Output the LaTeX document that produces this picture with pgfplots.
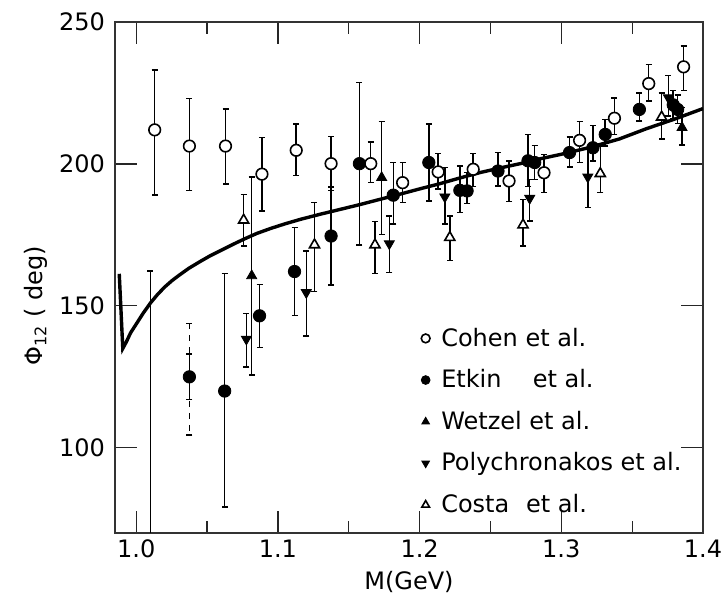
\documentclass[border=0pt]{standalone}
\usepackage{fontspec}
\setmainfont{DejaVu Sans}
\usepackage{pgfplots}
\pgfplotsset{compat=1.18}
\usepackage{pgfplotstable}

% phase Phi_12 vs M, five experiments; columns: M, phase, err+, err-
\pgfplotstableread{
x y ep em
1.013 212 21 23
1.0375 206.3 16.8 15.6
1.063 206.3 13 13.4
1.0887 196.4 12.9 12.9
1.1129 204.8 9.2 8.8
1.1375 200.1 9.5 9.5
1.1655 200.1 7.6 6.7
1.188 193.4 7.1 7
1.2131 197.2 6.4 6.1
1.2378 198.1 5.6 6
1.2631 194 7 7.3
1.2878 196.9 6.5 7
1.3129 208.3 6.6 7.8
1.3375 216.1 7.2 5.7
1.3617 228.3 6.8 6.1
1.3863 234.2 7.3 8.4
}\cohen
\pgfplotstableread{
x y ep em
1.0375 125 8 8
1.0624 120 41.4 40.8
1.087 146.5 11.1 11.1
1.1117 162.1 15.5 15.5
1.1375 174.6 17.2 17.2
1.1575 200.1 28.5 28.6
1.1814 189 11.5 10.1
1.2065 200.5 13.5 13.5
1.2284 190.7 8.6 7.8
1.2335 190.5 6.5 4.5
1.2553 197.5 6.5 5.2
1.2765 201.1 9.3 9
1.2812 200.5 6 6
1.3058 204 5.5 5.1
1.3223 205.7 7.9 4.7
1.331 210.4 5.3 4.1
1.3551 219.2 5.8 4.1
1.379 220.8 5 5
1.3821 219.2 5 5
}\etkin
\pgfplotstableread{
x y ep em
1.0815 160.6 34.8 34.9
1.1732 195.2 19.8 20
1.3852 212.8 7 6.1
}\wetzel
\pgfplotstableread{
x y ep em
1.0777 138.3 9 9.8
1.12 154.7 14.7 15.3
1.1786 171.9 9.8 10.2
1.2178 188.4 10.3 9.6
1.2777 187.9 6.7 8
1.3187 195.4 9.8 10.8
1.3756 223.3 7.9 6.4
}\poly
\pgfplotstableread{
x y ep em
1.0758 180.2 9.1 9.1
1.1258 171.5 14.9 16.5
1.1685 171.5 8.2 10.1
1.2213 174.1 7.6 8.1
1.273 178.5 9 7.4
1.3275 196.6 9.7 6.7
1.3708 216.5 8.5 7.8
}\costa

\pgfplotsset{
  errs/.style={only marks, black,
    error bars/y dir=both, error bars/y explicit,
    error bars/error bar style={black, line width=0.75pt, solid},
    error bars/error mark options={black, rotate=90, mark size=1.5pt, line width=0.75pt, solid}},
}

\begin{document}
\begin{tikzpicture}
\begin{axis}[scale only axis, width=294pt, height=255.5pt,
  xmin=0.985, xmax=1.4, ymin=70, ymax=250,
  xtick={1.0,1.1,1.2,1.3,1.4}, minor xtick={1.05,1.15,1.25,1.35},
  ytick={100,150,200,250},
  major tick length=11pt, minor tick length=6pt,
  every tick/.style={black!85, line width=0.6pt},
  axis line style={black!80, line width=0.8pt},
  tick label style={font=\fontsize{12}{14}\selectfont},
  /pgf/number format/assume math mode=true,
  xticklabel style={/pgf/number format/.cd, fixed, fixed zerofill, precision=1},
  yticklabel style={xshift=-1.5pt},
  xlabel={M(GeV)}, ylabel={Φ\textsubscript{12} ( deg)},
  label style={font=\fontsize{12}{14}\selectfont},
  xlabel style={at={(axis description cs:0.5,-0.095)}, anchor=center},
  ylabel style={at={(axis description cs:-0.134,0.444)}, anchor=center},
  legend style={draw=none, fill=none, at={(axis description cs:0.51,0.418)},
    anchor=north west, font=\fontsize{12}{14}\selectfont, row sep=6.2pt},
  legend cell align=left,
  legend image code/.code={\draw[#1, mark size=2.2pt] plot coordinates {(0.15cm,0cm)};},
]
\addplot[black, line width=1.7pt, mark=none, forget plot] coordinates {
(0.988,161.3)(0.9905,135)(0.993,137.3)(0.996,140.5)(1.000,143.6)(1.005,147.5)
(1.010,151)(1.015,154)(1.020,156.6)(1.025,158.8)(1.030,160.7)(1.037,163.2)
(1.045,165.6)(1.052,167.6)(1.060,169.6)(1.068,171.6)(1.076,173.5)(1.085,175.5)
(1.095,177.3)(1.105,178.9)(1.116,180.5)(1.130,182.3)(1.144,184)(1.158,185.7)
(1.171,187.4)(1.185,189.2)(1.200,191.2)(1.214,193)(1.228,195)(1.243,197)
(1.257,198.6)(1.271,200.1)(1.285,201.8)(1.300,203.4)(1.320,205.8)(1.341,208.8)
(1.360,212.4)(1.380,215.8)(1.400,219.5)};
% bars without a visible centre
\addplot[errs, mark=*, mark options={draw opacity=0, fill opacity=0}, forget plot]
  table[x=x, y=y, y error plus=ep, y error minus=em] {
x y ep em
1.010 100 62.3 40
};
\addplot[errs, mark=*, mark options={draw opacity=0, fill opacity=0}, forget plot,
  error bars/error bar style={black, line width=0.75pt, dashed}]
  table[x=x, y=y, y error plus=ep, y error minus=em] {
x y ep em
1.0375 125 18.8 20.4
};
\addplot[errs, mark=*, mark size=2.9pt, mark options={fill=white, draw=black, line width=0.8pt}]
  table[x=x, y=y, y error plus=ep, y error minus=em] {\cohen};
\addlegendentry{\hspace{0.3em}Cohen et al.}
\addplot[errs, mark=*, mark size=3.1pt, mark options={fill=black, draw=black}]
  table[x=x, y=y, y error plus=ep, y error minus=em] {\etkin};
\addlegendentry{\hspace{0.3em}Etkin\hspace{1.3em}et al.}
\addplot[errs, mark=triangle*, mark size=2.9pt, mark options={fill=black, draw=black}]
  table[x=x, y=y, y error plus=ep, y error minus=em] {\wetzel};
\addlegendentry{\hspace{0.3em}Wetzel et al.}
\addplot[errs, mark=triangle*, mark size=2.9pt, mark options={fill=black, draw=black, rotate=180}]
  table[x=x, y=y, y error plus=ep, y error minus=em] {\poly};
\addlegendentry{\hspace{0.3em}Polychronakos et al.}
\addplot[errs, mark=triangle*, mark size=2.9pt, mark options={fill=white, draw=black, line width=0.8pt}]
  table[x=x, y=y, y error plus=ep, y error minus=em] {\costa};
\addlegendentry{\hspace{0.3em}Costa\hspace{0.7em}et al.}
\coordinate (sw) at (rel axis cs:0,0);
\end{axis}
\pgfresetboundingbox
\path[use as bounding box] ([xshift=-57.5pt,yshift=-32pt]sw) rectangle ++(362pt,298.5pt);
\end{tikzpicture}
\end{document}
